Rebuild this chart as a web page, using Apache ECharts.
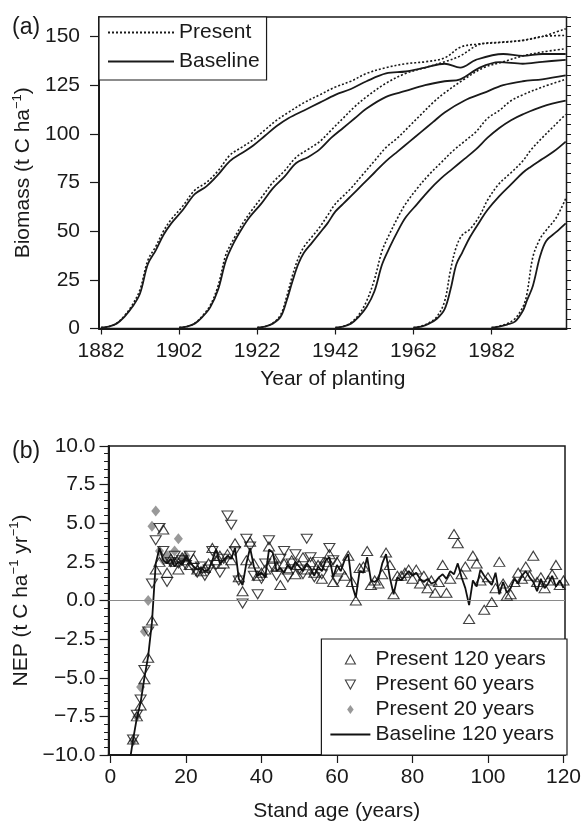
<!DOCTYPE html>
<html><head><meta charset="utf-8">
<script src="https://cdn.jsdelivr.net/npm/echarts@6/dist/echarts.min.js"></script>
<style>html,body{margin:0;padding:0;background:#fff}#c{width:584px;height:824px}</style>
</head><body><div id="c"></div>
<script>
// ---------- Panel (a): biomass by calendar year, stands planted 1882..1982 ----------
const yr1882   = [1882,1884,1886,1888,1890,1892,1894,1896,1898,1900,1903,1906,1909,1912,1915,1918,1921,1924,1927,1930,1934,1938,1942,1946,1950,1955,1960,1965,1970,1974,1978,1985,1990,1995,2001];
const base1882 = [0.5,1,2.5,6,11,18,33,40,48,54,61,69,73,79,86,90,94,99,104,108,112,116,120,123,127,131,132,134,136,134,138,141,140,141,141];
const pres1882 = [0.5,1,2.7,6.5,12,20,35,42,50,56,63,71,75,81,89,93,97,102,107,111,116,120,124,127,131,134,136,137,139,144.5,146,147,148,150,154];

const yr1902   = [1902,1904,1906,1908,1910,1912,1914,1916,1918,1920,1923,1926,1929,1932,1935,1938,1941,1944,1947,1950,1955,1960,1965,1970,1974,1979,1984,1990,1995,2001];
const base1902 = [0.5,1,2.5,6,11,20,35,44,51,57,64,72,78,85,88,92,98,103,108,113,119,122,125,127,128,134,136.8,136,137,138];
const pres1902 = [0.5,1,2.7,6.5,12,22,38,46,53,59,67,75,81,88,92,96,102,108,114,119,126,131,134,137,140,146,147,148,150,150.5];

const yr1922   = [1922,1924,1926,1928,1929.5,1931,1932.5,1934,1936,1938,1940,1942,1944,1946,1949,1952,1955,1958,1961,1964,1967,1970,1975,1980,1985,1990,1995,2001];
const base1922 = [0.5,1,2.5,6,14,24,33,39,44,49,54,60,64,68,74,80,86,91,96,101,106,111,117,121,125,127,128,130];
const pres1922 = [0.5,1,2.8,7,16,27,36,42,47,52,58,64,68,72,79,86,93,98,104,110,116,121,128,134,137,140,142,143.7];

const yr1942   = [1942,1944,1946,1948,1950,1952,1954,1956,1958,1960,1963,1966,1969,1972,1975,1978,1981,1984,1987,1990,1995,2001];
const base1942 = [0.5,1,2.5,6,11,19,33,42,50,57,64,71,77,82,87,92,98,103,107,110,114,117];
const pres1942 = [0.5,1,3,7,14,25,40,49,57,64,72,79,85,91,96,101,108,112,117,120,124,128];

const yr1962   = [1962,1964,1966,1968,1970,1971.5,1973,1974.5,1976.5,1979,1981,1984,1987,1990,1992,1995,1998,2001];
const base1962 = [0.5,1,2.5,5,10,20,33,39,47,55,61,68,74,80,83,87,91,96];
const pres1962 = [0.5,1.2,3,6,14,30,42,48,51,58,66,74.5,80,86,91.5,98,104,110];

const yr1982   = [1982,1984,1986,1988,1990,1991,1992.6,1994.4,1996,1998.6,2001];
const base1982 = [0.5,1,2,3.5,9,14,22,36.8,45,49.6,54];
const pres1982 = [0.5,1.2,2.5,5,11,17,36.8,46,50.5,57,66.8];

const ticksA_x = [1882,1902,1922,1942,1962,1982];
const ticksA_y = [0,25,50,75,100,125,150];

// ---------- Panel (b): NEP by stand age ----------
const ageStartUp = 6;
const present120 = [-9.0,-7.5,-6.8,-5.1,-3.7,-1.3,2.0,2.5,4.6,1.8,2.7,2.5,2.0,2.8,2.6,2.3,2.7,2.0,1.9,2.1,2.4,3.4,2.6,2.9,2.4,3.0,2.6,3.7,1.5,0.6,2.6,3.8,2.4,1.6,1.8,2.0,3.5,2.7,2.2,1.0,2.4,2.0,2.6,1.7,2.3,2.8,2.0,2.5,1.8,2.3,1.4,2.5,3.0,1.2,2.5,2.0,1.6,2.9,1.2,0.0,2.1,2.2,3.2,1.0,1.3,1.1,1.7,3.1,2.3,0.4,1.6,1.6,1.8,2.0,1.4,2.0,1.1,1.6,0.8,1.3,0.5,1.2,2.3,0.5,1.4,4.3,3.7,1.7,2.2,-1.2,2.9,2.4,1.3,-0.6,1.5,-0.1,0.8,2.5,1.1,0.3,0.4,1.2,1.8,1.4,2.2,1.6,2.9,1.2,1.5,0.8,1.3,1.7,2.3,1.0,1.3];
const ageStartDown = 6;
const present60 = [-9.0,-7.4,-6.4,-4.5,-2.0,1.1,3.9,4.7,3.2,1.2,2.5,2.9,2.4,2.6,2.3,2.9,2.1,1.8,2.2,1.6,2.0,3.2,2.3,1.8,2.7,5.5,4.9,3.2,1.3,-0.2,4.0,3.5,1.6,0.4,1.4,2.4,3.9,2.2,1.6,2.7,3.2,1.5,2.4,3.0,2.0,1.7,4.0,2.8,1.5,2.5,1.7,2.2,3.4,2.6,1.3];
const ageStartDiamond = 6;
const present20 = [-9.1,-7.5,-5.6,-2.0,0.0,4.8,5.8,3.2,2.6,2.9,2.5,3.2,4.0,2.7,2.9];
const ageStartBase = 5;
const baseline120 = [-10.6,-9.0,-7.6,-6.6,-5.0,-3.6,-1.4,2.4,3.4,2.6,2.4,2.7,2.2,2.5,2.3,2.8,2.5,2.2,2.0,2.1,1.9,2.0,2.6,3.3,2.4,2.6,2.9,2.7,3.4,1.4,1.0,2.4,3.4,2.2,1.6,1.8,1.5,3.3,3.1,1.9,2.1,1.8,2.3,2.0,2.5,2.2,1.9,2.4,2.1,1.6,2.2,1.9,2.6,2.8,1.5,2.3,1.9,2.6,3.0,1.0,0.2,1.9,1.8,2.8,1.3,1.2,1.4,2.4,3.0,1.5,0.4,1.5,1.3,1.6,1.9,1.6,1.8,1.4,1.2,1.4,1.1,1.2,1.5,1.7,1.4,1.9,1.7,2.4,1.5,0.8,-0.3,1.3,0.9,2.0,1.6,1.3,1.0,1.8,0.4,1.2,0.5,0.8,1.4,1.1,1.6,1.9,1.5,1.2,0.6,1.4,0.8,1.1,1.6,0.9,1.3,0.8];
const ticksB_x = [0,20,40,60,80,100,120];

// ---------- helpers ----------
const FONT = '"Liberation Sans", Arial, Helvetica, sans-serif';
const INK = '#1a1a1a';
const FS = 21;
const pairs = (xs, ys) => ys.map((v, i) => [xs[i], v]);
const byAge = (start, ys) => ys.map((v, i) => [start + i, v]);

function standLine(name, yrs, vals, dotted) {
  return {
    type: 'line', name, xAxisIndex: 0, yAxisIndex: 0,
    data: pairs(yrs, vals), symbol: 'none', showSymbol: false, smooth: 0.35,
    itemStyle: { color: INK },
    lineStyle: { color: INK, width: dotted ? 1.6 : 1.8, type: dotted ? [2, 2] : 'solid' },
    silent: true, z: dotted ? 3 : 4
  };
}

const seriesA = [
  [yr1882, base1882, pres1882], [yr1902, base1902, pres1902], [yr1922, base1922, pres1922],
  [yr1942, base1942, pres1942], [yr1962, base1962, pres1962], [yr1982, base1982, pres1982]
].flatMap(([y, b, p]) => [standLine('Present', y, p, true), standLine('Baseline', y, b, false)]);

const hollow = { color: 'rgba(0,0,0,0)', borderColor: '#111', borderWidth: 1.1 };
const noSym = { opacity: 0 };

const seriesB = [
  { type: 'line', name: 'Baseline 120 years', xAxisIndex: 1, yAxisIndex: 2,
    data: byAge(ageStartBase, baseline120), symbol: 'none', showSymbol: false,
    itemStyle: { color: '#111' },
    lineStyle: { color: '#111', width: 1.8 }, z: 3, silent: true,
    markLine: { silent: true, symbol: 'none', label: { show: false },
      lineStyle: { color: '#8a8a8a', width: 1.2, type: 'solid' }, data: [{ yAxis: 0 }] } },
  { type: 'scatter', name: 'Present 20 years', xAxisIndex: 1, yAxisIndex: 2,
    data: byAge(ageStartDiamond, present20), symbol: 'diamond', symbolSize: [9, 11],
    itemStyle: { color: '#808080' }, z: 2, silent: true },
  { type: 'scatter', name: 'Present 60 years', xAxisIndex: 1, yAxisIndex: 2,
    data: byAge(ageStartDown, present60), symbol: 'triangle', symbolRotate: 180, symbolSize: [11, 9],
    itemStyle: hollow, z: 4, silent: true },
  { type: 'scatter', name: 'Present 120 years', xAxisIndex: 1, yAxisIndex: 2,
    data: byAge(ageStartUp, present120), symbol: 'triangle', symbolSize: [11, 9],
    itemStyle: hollow, z: 5, silent: true }
];

const txt = { fontSize: FS, color: INK, fontFamily: FONT };
const supRich = { sup: { fontSize: 13, verticalAlign: 'top', lineHeight: 26, fontFamily: FONT, color: INK } };

const chart = echarts.init(document.getElementById('c'), null, { renderer: 'canvas' });
chart.setOption({
  animation: false,
  backgroundColor: '#fff',
  title: [
    { text: '(a)', left: 7, top: 11, textStyle: { fontSize: 23, fontWeight: 'normal', color: INK, fontFamily: FONT } },
    { text: '(b)', left: 7, top: 435, textStyle: { fontSize: 23, fontWeight: 'normal', color: INK, fontFamily: FONT } }
  ],
  grid: [
    { left: 99, top: 17, width: 467.5, height: 311.5, show: true, borderColor: INK, borderWidth: 1.5, containLabel: false },
    { left: 104, top: 446, width: 463, height: 309, show: true, borderColor: INK, borderWidth: 1.5, containLabel: false }
  ],
  legend: [
    { left: 99, top: 17, orient: 'vertical', itemWidth: 66, itemHeight: 10, itemGap: 8, itemTextGap: 10,
      padding: [5, 7, 8, 8], borderColor: INK, borderWidth: 1.2, backgroundColor: '#fff', borderRadius: 0,
      textStyle: txt, selectedMode: false, z: 10,
      data: [{ name: 'Present', itemStyle: noSym }, { name: 'Baseline', itemStyle: noSym }] },
    { right: 17, bottom: 69, orient: 'vertical', itemWidth: 40, itemHeight: 9, itemGap: 4, itemTextGap: 7,
      padding: [10, 13, 10, 8], borderColor: INK, borderWidth: 1.2, backgroundColor: '#fff', borderRadius: 0,
      textStyle: txt, selectedMode: false, z: 10,
      data: [
        { name: 'Present 120 years', icon: 'path://M5,0L10,9L0,9Z', itemStyle: hollow },
        { name: 'Present 60 years', icon: 'path://M0,0L10,0L5,9Z', itemStyle: hollow },
        { name: 'Present 20 years', icon: 'path://M5,0L9,5.5L5,11L1,5.5Z', itemStyle: { color: '#808080', borderWidth: 0 } },
        { name: 'Baseline 120 years', itemStyle: noSym }
      ] }
  ],
  xAxis: [
    { gridIndex: 0, type: 'value', min: 1881.5, max: 2001.2,
      axisLine: { show: true, onZero: false, lineStyle: { color: INK, width: 2 } },
      axisTick: { show: true, customValues: ticksA_x, length: 6, lineStyle: { color: INK, width: 1.2 } },
      axisLabel: { customValues: ticksA_x, margin: 12, ...txt, formatter: v => String(v) },
      splitLine: { show: false },
      name: 'Year of planting', nameLocation: 'middle', nameGap: 40, nameTextStyle: txt },
    { gridIndex: 1, type: 'value', min: -0.5, max: 120.4,
      axisLine: { show: true, onZero: false, lineStyle: { color: INK, width: 2 } },
      axisTick: { show: true, customValues: ticksB_x, length: 8, lineStyle: { color: INK, width: 1.2 } },
      axisLabel: { customValues: ticksB_x, margin: 12, ...txt, formatter: v => String(v) },
      splitLine: { show: false },
      name: 'Stand age (years)', nameLocation: 'middle', nameGap: 46, nameTextStyle: txt }
  ],
  yAxis: [
    { gridIndex: 0, type: 'value', min: 0, max: 160,
      axisLine: { show: true, onZero: false, lineStyle: { color: INK, width: 2 } },
      axisTick: { show: true, customValues: ticksA_y, length: 9, lineStyle: { color: INK, width: 1.2 } },
      axisLabel: { customValues: ticksA_y, margin: 19, ...txt, formatter: v => String(v) },
      splitLine: { show: false },
      name: 'Biomass (t C ha{sup|−1})', nameLocation: 'middle', nameGap: 53,
      nameTextStyle: { ...txt, rich: supRich } },
    { gridIndex: 0, type: 'value', min: 0, max: 160, interval: 5,
      axisLine: { show: false }, axisLabel: { show: false }, splitLine: { show: false },
      axisTick: { show: true, length: 4.5, lineStyle: { color: INK, width: 1 } } },
    { gridIndex: 1, type: 'value', min: -10, max: 10, interval: 2.5,
      axisLine: { show: true, onZero: false, lineStyle: { color: INK, width: 2 } },
      axisTick: { show: true, length: 9, lineStyle: { color: INK, width: 1.2 } },
      minorTick: { show: true, splitNumber: 5, length: 4.5, lineStyle: { color: INK, width: 1 } },
      axisLabel: { margin: 13, ...txt, formatter: v => v.toFixed(1).replace('-', '\u2212') },
      splitLine: { show: false },
      name: 'NEP (t C ha{sup|−1} yr{sup|−1})', nameLocation: 'middle', nameGap: 62,
      nameTextStyle: { ...txt, rich: supRich } }
  ],
  series: [...seriesA, ...seriesB]
});
</script>
</body></html>
